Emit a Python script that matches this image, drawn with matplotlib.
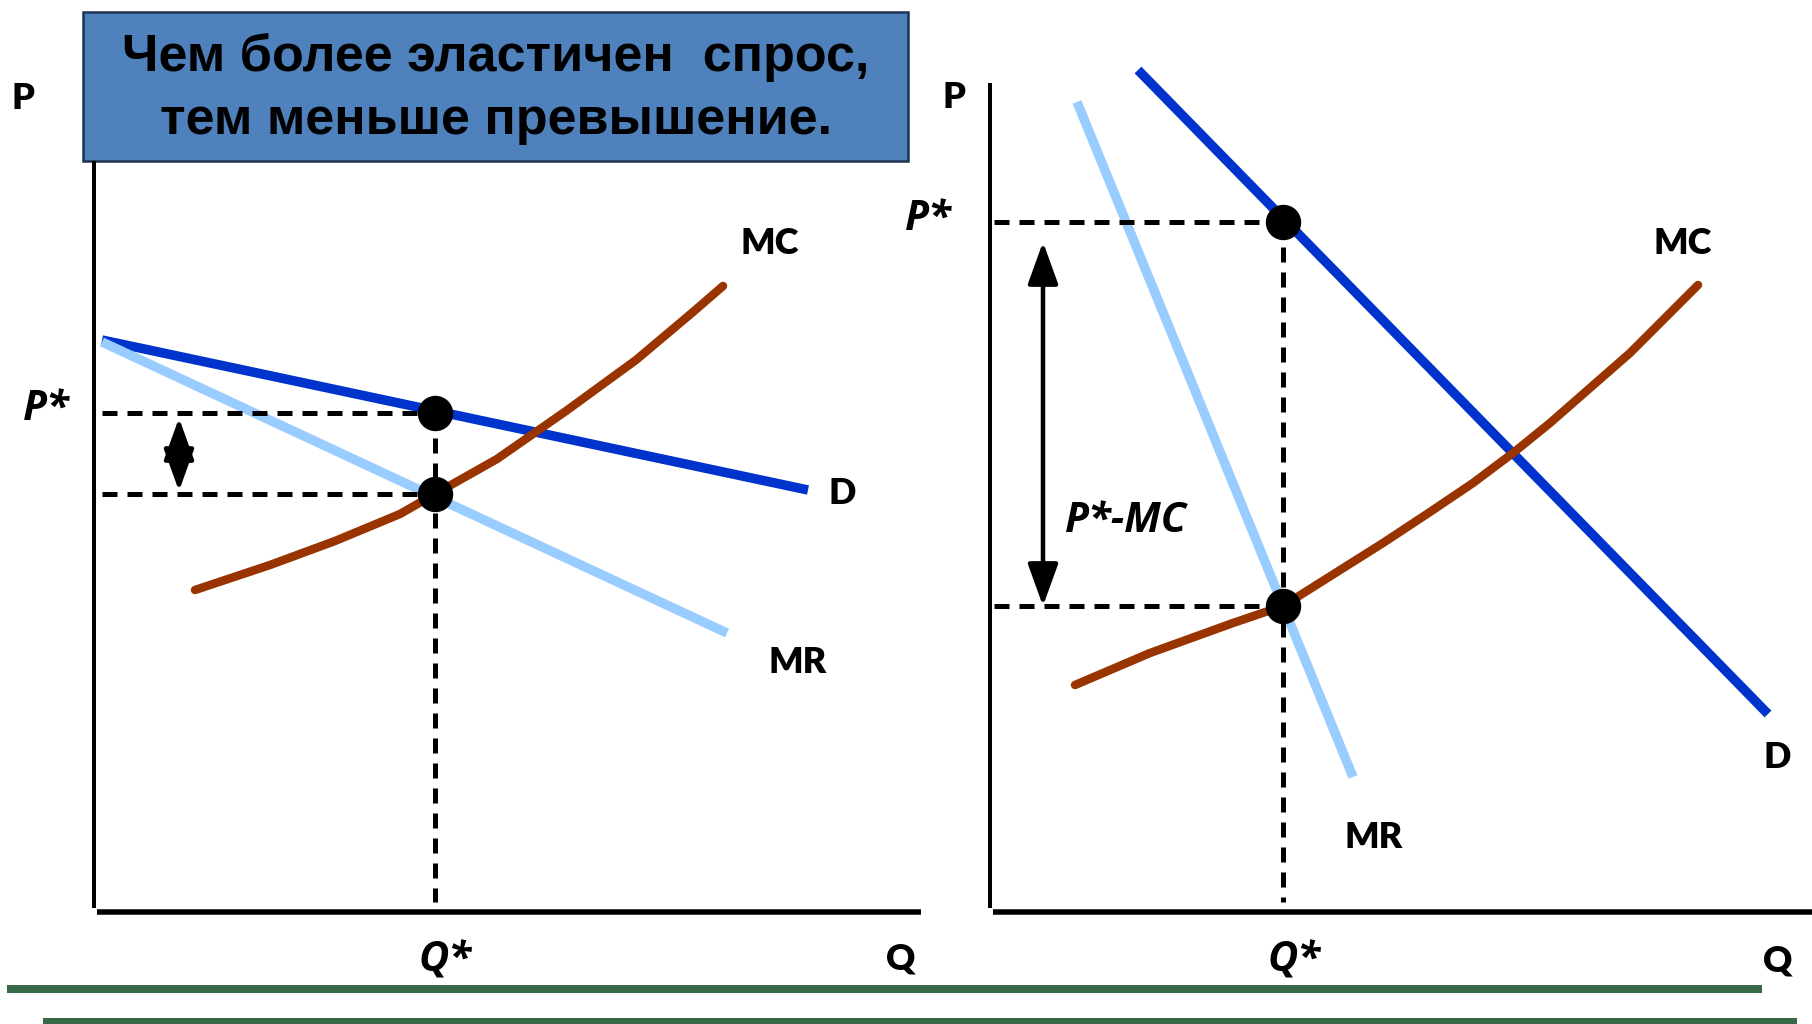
import matplotlib
matplotlib.use("Agg")
import matplotlib.pyplot as plt
from matplotlib.patches import Rectangle, FancyArrowPatch

W, H, DPI = 1812, 1024, 100
PX = 72.0 / DPI  # points per pixel

# ---- Left panel: elastic demand (Q, P in panel units) ----
left_d_q = [0.8, 71.4]
left_d_p = [57.2, 42.2]
left_mr_q = [0.8, 63.3]
left_mr_p = [57.0, 27.9]
left_mc_q = [10.1, 17.6, 24.1, 30.6, 34.1, 40.3, 47.2, 54.2, 59.9, 62.9]
left_mc_p = [32.2, 34.7, 37.1, 39.8, 41.8, 45.3, 50.1, 55.2, 60.0, 62.6]
left_q_star = 34.1
left_p_star = 49.9
left_mc_star = 41.8

# ---- Right panel: inelastic demand ----
right_d_q = [14.8, 77.8]
right_d_p = [84.2, 19.8]
right_mr_q = [8.7, 36.3]
right_mr_p = [81.0, 13.5]
right_mc_q = [8.5, 16.0, 24.3, 29.3, 39.3, 44.0, 48.3, 52.3, 56.0, 64.0, 70.8]
right_mc_p = [22.7, 25.9, 28.9, 30.6, 36.9, 40.0, 42.9, 45.9, 48.9, 55.9, 62.7]
right_q_star = 29.3
right_p_star = 69.0
right_mc_star = 30.6

title_lines = ["Чем более эластичен  спрос,", "тем меньше превышение."]

C_D = "#0033CC"
C_MR = "#99CCFF"
C_MC = "#993300"
C_GREEN = "#386947"
LABEL_FONT = ["Lato", "DejaVu Sans"]
ITALIC_FONT = ["Open Sans", "DejaVu Sans"]

fig = plt.figure(figsize=(W / DPI, H / DPI), dpi=DPI)
fig.patch.set_facecolor("white")

# overlay in pixel units for the title box and footer rules
ov = fig.add_axes([0, 0, 1, 1])
ov.set_xlim(0, W)
ov.set_ylim(H, 0)
ov.axis("off")

ov.add_patch(Rectangle((83, 12), 825, 149, facecolor="#4F81BD",
                       edgecolor="#1F3350", linewidth=1.8))
for s, base in zip(title_lines, [71, 134]):
    ov.text(496, base, s, ha="center", va="baseline", fontsize=37.5,
            fontweight="bold", family=["Liberation Sans", "DejaVu Sans"],
            color="black")

ov.plot([7, 1762], [989, 989], color=C_GREEN, lw=8 * PX, solid_capstyle="butt")
ov.plot([43, 1797], [1021, 1021], color=C_GREEN, lw=6 * PX, solid_capstyle="butt")


def make_panel(left_px, width_units):
    ax = fig.add_axes([left_px / W, (H - 912) / H, width_units * 10 / W, 860 / H])
    ax.set_xlim(0, width_units)
    ax.set_ylim(0, 86)
    ax.axis("off")
    return ax


def label(ax, x, yc, s, size=26, italic=False):
    fam = ITALIC_FONT if italic else LABEL_FONT
    cap = 0.715 * size / PX / 10.0  # cap height in panel units
    ax.text(x, yc - cap / 2, s, ha="center", va="baseline", fontsize=size,
            fontweight="heavy" if not italic else "bold",
            fontstyle="italic" if italic else "normal",
            family=fam, color="black", clip_on=False)


def draw_panel(ax, y_top, x_end, d_q, d_p, mr_q, mr_p, mc_q, mc_p,
               q_star, p_star, mc_star, dash_start, arrow_q, shrink_top, shrink_bot):
    ax.plot([0, 0], [0.4, y_top], color="black", lw=4 * PX,
            solid_capstyle="butt", clip_on=False)
    ax.plot([0.3, x_end], [0, 0], color="black", lw=5.5 * PX,
            solid_capstyle="butt", clip_on=False)

    ax.plot(d_q, d_p, color=C_D, lw=9.5 * PX, solid_capstyle="butt", zorder=3)
    ax.plot(mr_q, mr_p, color=C_MR, lw=9.5 * PX, solid_capstyle="butt", zorder=4)
    ax.plot(mc_q, mc_p, color=C_MC, lw=8.5 * PX, solid_capstyle="round",
            solid_joinstyle="round", zorder=5)

    dash = dict(color="black", lw=5 * PX, dashes=(3.0, 2.0),
                dash_capstyle="butt", zorder=6)
    ax.plot([dash_start, q_star], [p_star, p_star], **dash)
    ax.plot([dash_start, q_star], [mc_star, mc_star], **dash)
    ax.plot([q_star, q_star], [p_star, 1.0], **dash)

    ax.plot([q_star, q_star], [p_star, mc_star], "o", color="black",
            markersize=34 * PX, zorder=7)

    arr = FancyArrowPatch((arrow_q, mc_star), (arrow_q, p_star),
                          arrowstyle="<|-|>,head_length=%.2f,head_width=%.2f"
                          % (36 * PX, 13 * PX),
                          mutation_scale=1, color="black", lw=4.5 * PX,
                          shrinkA=shrink_bot, shrinkB=shrink_top, zorder=8)
    ax.add_patch(arr)


axL = make_panel(94, 84.0)
draw_panel(axL, 75.1, 82.7, left_d_q, left_d_p, left_mr_q, left_mr_p,
           left_mc_q, left_mc_p, left_q_star, left_p_star, left_mc_star,
           dash_start=0.8, arrow_q=8.5, shrink_top=5 * PX, shrink_bot=3 * PX)
label(axL, -7.1, 81.6, "P")
label(axL, -4.8, 50.7, "P*", size=30, italic=True)
label(axL, left_q_star + 1.0, -4.5, "Q*", size=30, italic=True)
label(axL, 80.7, -4.5, "Q")
label(axL, 67.6, 67.1, "MC")
label(axL, 74.8, 42.1, "D")
label(axL, 70.4, 25.2, "MR")

axR = make_panel(990, 82.2)
draw_panel(axR, 82.9, 82.2, right_d_q, right_d_p, right_mr_q, right_mr_p,
           right_mc_q, right_mc_p, right_q_star, right_p_star, right_mc_star,
           dash_start=0.4, arrow_q=5.3, shrink_top=20 * PX, shrink_bot=0)
label(axR, -3.6, 81.7, "P")
label(axR, -6.2, 69.7, "P*", size=30, italic=True)
label(axR, right_q_star + 1.1, -4.5, "Q*", size=30, italic=True)
label(axR, 78.8, -4.7, "Q")
label(axR, 69.3, 67.1, "MC")
label(axR, 78.7, 15.7, "D")
label(axR, 38.4, 7.7, "MR")
label(axR, 13.6, 39.5, "P*-MC", size=30, italic=True)

fig.savefig("out.png", dpi=DPI, facecolor="white")
